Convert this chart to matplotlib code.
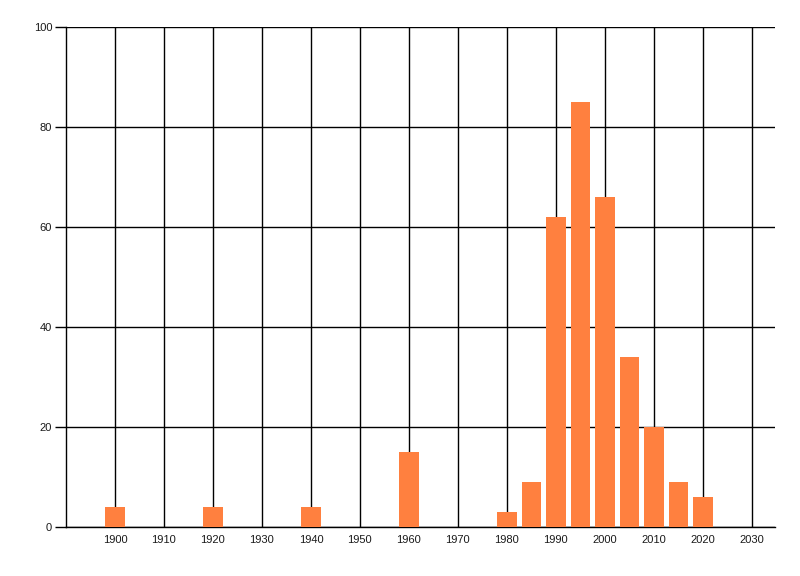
import matplotlib
matplotlib.use("Agg")
import matplotlib.pyplot as plt

years = [1900, 1920, 1940, 1960, 1980, 1985, 1990, 1995, 2000, 2005, 2010, 2015, 2020]
counts = [4, 4, 4, 15, 3, 9, 62, 85, 66, 34, 20, 9, 6]
x_ticks = list(range(1900, 2031, 10))
y_ticks = [0, 20, 40, 60, 80, 100]

plt.rcParams['font.family'] = ['Liberation Sans', 'DejaVu Sans']

fig = plt.figure(figsize=(8, 5.76), dpi=100)
ax = fig.add_axes([0.0825, 0.085, 0.886, 0.868])

ax.bar(years, counts, width=4, color='#FF803F', zorder=3)

ax.set_xlim(1890, 2034.7)
ax.set_ylim(0, 100)
ax.set_xticks(x_ticks)
ax.set_yticks(y_ticks)
ax.grid(True, color='black', linewidth=1, zorder=0)
ax.set_axisbelow(True)

for s in ['top', 'right']:
    ax.spines[s].set_visible(False)
ax.spines['left'].set_linewidth(1)
ax.spines['bottom'].set_linewidth(1)

ax.tick_params(axis='x', length=0, pad=6, labelsize=8, colors='#1a1a1a')
ax.tick_params(axis='y', length=8, width=1, pad=2, labelsize=8, colors='#1a1a1a')
ax.tick_params(axis='y', color='black')

fig.savefig('out.png', dpi=100)
